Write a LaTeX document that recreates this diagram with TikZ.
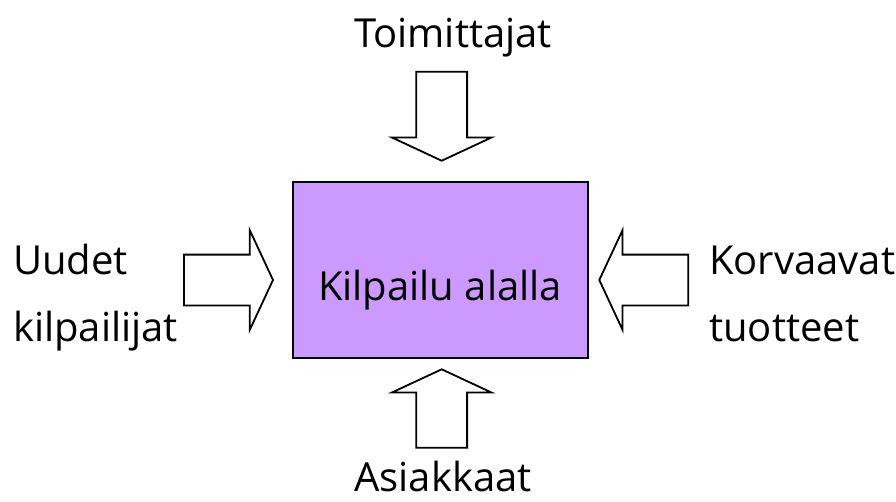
\documentclass[tikz,border=0pt]{standalone}
\usepackage{fontspec}
\setmainfont{Open Sans}
\usetikzlibrary{positioning, shapes.arrows}

\begin{document}
\begin{tikzpicture}[
        x=1pt, y=-1pt,
        every node/.style={font=\fontsize{40}{48}\selectfont},
        core/.style={draw, line width=1.8pt, fill=purplebox, minimum width=295pt, minimum height=176.6pt, inner sep=0pt},
        force/.style={draw, line width=1.8pt, fill=white, single arrow, single arrow tip angle=130,
            single arrow head extend=24.5pt, minimum height=89pt, inner sep=24.5pt, anchor=tip},
        lbl/.style={inner sep=0pt}
    ]
    \definecolor{purplebox}{HTML}{CC99FF}
    \useasboundingbox (0,0) rectangle (896,501);

    % Centre
    \node[core] (kil) at (440.8,270) {};
    \node[lbl, anchor=base] (kiltxt) at (440,300.7) {Kilpailu alalla};

    % Forces
    \node[force, shape border rotate=270] (toim) at (441.7,161.7) {};
    \node[force, shape border rotate=90, minimum height=78.4pt] (asia) at (441.7,368.3) {};
    \node[force, shape border rotate=0] (uud) at (274,280) {};
    \node[force, shape border rotate=180] (korv) at (598.3,280) {};

    % Labels
    \node[lbl, anchor=base] (toimtxt) at (453,47.3) {Toimittajat};
    \node[lbl, anchor=base] (asiatxt) at (443,491) {Asiakkaat};
    \node[lbl, anchor=base west] (uudtxt) at (13,274.3) {Uudet};
    \node[lbl, anchor=base west] (kilptxt) at (13,341.7) {kilpailijat};
    \node[lbl, anchor=base west] (korvtxt) at (709,274.3) {Korvaavat};
    \node[lbl, anchor=base west] (tuottxt) at (709,341.7) {tuotteet};

\end{tikzpicture}
\end{document}
